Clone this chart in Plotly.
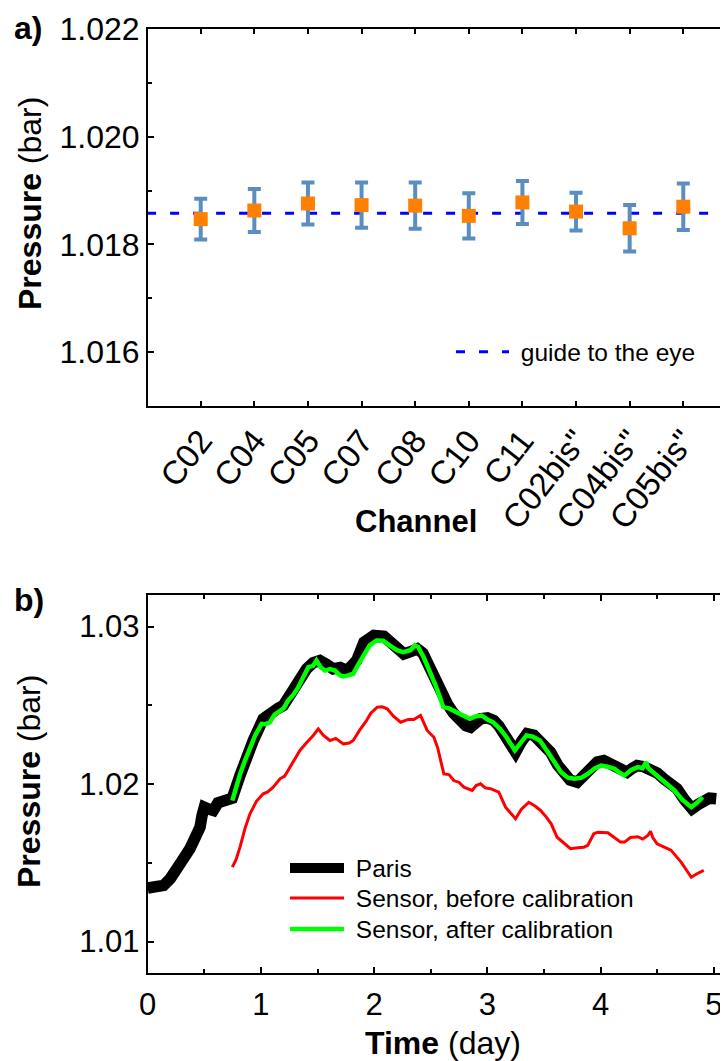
import plotly.graph_objects as go

# ---------------- Panel a data ----------------
channels = ["C02", "C04", "C05", "C07", "C08", "C10", "C11", 'C02bis"', 'C04bis"', 'C05bis"']
pressure_a = [1.01847, 1.01863, 1.01876, 1.01873, 1.01872, 1.01853, 1.01878, 1.01861, 1.01830, 1.01870]
err_a = [0.00038, 0.00040, 0.00039, 0.00042, 0.00043, 0.00042, 0.00040, 0.00035, 0.00043, 0.00043]
guide_value = 1.01858

# ---------------- Panel b data ----------------
paris_t = [0.00, 0.05, 0.10, 0.14, 0.20, 0.256, 0.31, 0.373, 0.42, 0.462, 0.48, 0.50, 0.54, 0.579,
           0.62, 0.66, 0.70, 0.747, 0.815, 0.87, 0.932, 1.02, 1.06, 1.108, 1.15, 1.197, 1.24, 1.285,
           1.35, 1.403, 1.46, 1.52, 1.58, 1.638, 1.70, 1.756, 1.80, 1.845, 1.909, 1.997, 2.086,
           2.174, 2.262, 2.32, 2.38, 2.43, 2.468, 2.52, 2.556, 2.60, 2.645, 2.70, 2.763, 2.81,
           2.851, 2.90, 2.939, 3.00, 3.057, 3.10, 3.145, 3.20, 3.248, 3.30, 3.35, 3.41, 3.469,
           3.51, 3.557, 3.62, 3.674, 3.73, 3.792, 3.85, 3.91, 3.97, 4.027, 4.09, 4.145, 4.19,
           4.233, 4.28, 4.321, 4.38, 4.44, 4.50, 4.557, 4.62, 4.674, 4.74, 4.807, 4.86, 4.91,
           4.96, 5.02]
paris_p = [1.01340, 1.01345, 1.01350, 1.01356, 1.01400, 1.01451, 1.01520, 1.01590, 1.01660,
           1.01726, 1.01800, 1.01853, 1.01840, 1.01832, 1.01880, 1.01895, 1.01890, 1.01910,
           1.02054, 1.02180, 1.02276, 1.02414, 1.02440, 1.02467, 1.02480, 1.02498, 1.02550,
           1.02604, 1.02680, 1.02731, 1.02770, 1.02784, 1.02760, 1.02731, 1.02740, 1.02721,
           1.02750, 1.02784, 1.02900, 1.02943, 1.02937, 1.02879, 1.02826, 1.02840, 1.02858,
           1.02830, 1.02773, 1.02690, 1.02615, 1.02560, 1.02509, 1.02450, 1.02392, 1.02370,
           1.02360, 1.02390, 1.02414, 1.02420, 1.02403, 1.02370, 1.02319, 1.02250, 1.02202,
           1.02270, 1.02319, 1.02310, 1.02276, 1.02250, 1.02202, 1.02120, 1.02064, 1.02025,
           1.02011, 1.02050, 1.02107, 1.02140, 1.02149, 1.02130, 1.02107, 1.02085, 1.02075,
           1.02100, 1.02117, 1.02110, 1.02096, 1.02070, 1.02033, 1.02000, 1.01970, 1.01900,
           1.01843, 1.01870, 1.01895, 1.01910, 1.01906]

before_t = [0.747, 0.78, 0.815, 0.86, 0.903, 0.96, 1.02, 1.06, 1.108, 1.168, 1.21, 1.256, 1.30,
            1.344, 1.40, 1.462, 1.506, 1.55, 1.609, 1.66, 1.727, 1.78, 1.815, 1.87, 1.93, 1.97,
            2.027, 2.07, 2.115, 2.17, 2.233, 2.30, 2.35, 2.409, 2.468, 2.527, 2.56, 2.586, 2.615,
            2.66, 2.703, 2.75, 2.792, 2.865, 2.90, 2.939, 2.98, 3.027, 3.10, 3.16, 3.20, 3.248,
            3.30, 3.365, 3.42, 3.469, 3.52, 3.563, 3.615, 3.65, 3.733, 3.80, 3.851, 3.886, 3.939,
            3.975, 4.027, 4.063, 4.12, 4.175, 4.21, 4.263, 4.327, 4.37, 4.416, 4.44, 4.46, 4.498,
            4.59, 4.62, 4.71, 4.80, 4.85, 4.91]
before_p = [1.01472, 1.01520, 1.01599, 1.01720, 1.01811, 1.01890, 1.01938, 1.01950, 1.01980,
            1.02033, 1.02050, 1.02107, 1.02160, 1.02213, 1.02260, 1.02308, 1.02350, 1.02310,
            1.02276, 1.02290, 1.02255, 1.02260, 1.02276, 1.02340, 1.02400, 1.02450, 1.02488,
            1.02490, 1.02477, 1.02430, 1.02392, 1.02410, 1.02410, 1.02435, 1.02340, 1.02297,
            1.02230, 1.02149, 1.02064, 1.02060, 1.02022, 1.02010, 1.01980, 1.01959, 1.01990,
            1.02001, 1.01975, 1.01970, 1.01948, 1.01853, 1.01820, 1.01779, 1.01840, 1.01884,
            1.01860, 1.01832, 1.01790, 1.01747, 1.01662, 1.01641, 1.01589, 1.01595, 1.01599,
            1.01610, 1.01684, 1.01694, 1.01694, 1.01690, 1.01660, 1.01631, 1.01631, 1.01660,
            1.01665, 1.01650, 1.01673, 1.01700, 1.01660, 1.01620, 1.01589, 1.01580, 1.01504,
            1.01408, 1.01430, 1.01451]

after_t = [0.747, 0.78, 0.815, 0.859, 0.90, 0.95, 1.006, 1.04, 1.08, 1.12, 1.153, 1.20, 1.24,
           1.29, 1.33, 1.38, 1.418, 1.46, 1.49, 1.53, 1.565, 1.61, 1.653, 1.70, 1.727, 1.77,
           1.815, 1.86, 1.903, 1.96, 2.021, 2.08, 2.139, 2.20, 2.256, 2.32, 2.36, 2.389, 2.44,
           2.49, 2.54, 2.58, 2.61, 2.66, 2.727, 2.79, 2.845, 2.90, 2.948, 3.00, 3.05, 3.11,
           3.169, 3.242, 3.30, 3.345, 3.40, 3.463, 3.534, 3.60, 3.65, 3.71, 3.769, 3.83, 3.886,
           3.95, 4.004, 4.06, 4.122, 4.17, 4.21, 4.27, 4.327, 4.37, 4.40, 4.42, 4.47, 4.533,
           4.59, 4.651, 4.72, 4.80, 4.85, 4.90]
after_p = [1.01895, 1.01980, 1.02060, 1.02149, 1.02230, 1.02310, 1.02382, 1.02380, 1.02392,
           1.02440, 1.02456, 1.02480, 1.02530, 1.02570, 1.02615, 1.02690, 1.02742, 1.02750,
           1.02784, 1.02740, 1.02720, 1.02730, 1.02720, 1.02689, 1.02683, 1.02690, 1.02700,
           1.02760, 1.02816, 1.02880, 1.02911, 1.02910, 1.02879, 1.02850, 1.02837, 1.02850,
           1.02880, 1.02869, 1.02800, 1.02720, 1.02630, 1.02551, 1.02488, 1.02480, 1.02456,
           1.02430, 1.02414, 1.02430, 1.02435, 1.02410, 1.02392, 1.02350, 1.02297, 1.02213,
           1.02270, 1.02308, 1.02300, 1.02276, 1.02202, 1.02130, 1.02075, 1.02040, 1.02033,
           1.02040, 1.02064, 1.02100, 1.02117, 1.02110, 1.02096, 1.02070, 1.02054, 1.02090,
           1.02107, 1.02100, 1.02140, 1.02100, 1.02070, 1.02033, 1.02000, 1.01959, 1.01900,
           1.01853, 1.01880, 1.01916]

# ---------------- Layout helpers ----------------
# The page body has an 8 px margin, so the figure is sized to fill the rest of the window
OFF = 8
W, H = 728 - OFF, 1061 - OFF
FONT = "Liberation Sans, Arial, sans-serif"


def px(xp):
    return (xp - OFF) / W


def py(yp):
    return (H - (yp - OFF)) / H


chan_idx = list(range(len(channels)))

fig = go.Figure()

# Panel a
fig.add_trace(go.Scatter(
    x=[chan_idx[0] - 1, chan_idx[-1] + 1], y=[guide_value, guide_value],
    mode="lines", name="\u00a0guide to the eye",
    line=dict(color="#0000FF", width=3, dash="9px,14px"),
    xaxis="x", yaxis="y", legend="legend", showlegend=True))
fig.add_trace(go.Scatter(
    x=chan_idx, y=pressure_a, mode="markers",
    marker=dict(symbol="square", size=14, color="#FF8000", line=dict(width=0)),
    error_y=dict(type="data", array=err_a, visible=True, color="#5A8EC0",
                 thickness=4, width=6.5),
    xaxis="x", yaxis="y", showlegend=False))

# Panel b
fig.add_trace(go.Scatter(
    x=paris_t, y=paris_p, mode="lines", name="\u00a0Paris",
    line=dict(color="black", width=11.5), xaxis="x2", yaxis="y2", legend="legend2"))
fig.add_trace(go.Scatter(
    x=before_t, y=before_p, mode="lines", name="\u00a0Sensor, before calibration",
    line=dict(color="#FF0000", width=3), xaxis="x2", yaxis="y2", legend="legend3"))
fig.add_trace(go.Scatter(
    x=after_t, y=after_p, mode="lines", name="\u00a0Sensor, after calibration",
    line=dict(color="#00FF00", width=4.5), xaxis="x2", yaxis="y2", legend="legend4"))

axis_common = dict(showline=True, linecolor="black", linewidth=2, ticks="inside",
                   tickcolor="black", tickwidth=1.5, showgrid=False, zeroline=False,
                   automargin=False, tickfont=dict(family=FONT, color="black"))

legend_b = dict(xanchor="left", yanchor="middle", bgcolor="rgba(0,0,0,0)",
                font=dict(size=24.5, family=FONT), itemwidth=54)

fig.update_layout(
    template="none",
    width=W, height=H,
    margin=dict(l=0, r=0, t=0, b=0, pad=0),
    paper_bgcolor="white", plot_bgcolor="white",
    font=dict(family=FONT, color="black"),
    xaxis=dict(**axis_common, domain=[px(148), 1.0], anchor="y",
               range=[-0.983, 9.834], tickmode="array", tickvals=chan_idx,
               ticktext=channels, tickangle=-52, ticklen=5, mirror="ticks",
               tickfont_size=33),
    yaxis=dict(**axis_common, domain=[py(406), py(29)], anchor="x",
               range=[1.015, 1.022], tickmode="array",
               tickvals=[1.016, 1.018, 1.020, 1.022], tickformat=".3f",
               ticklen=6, mirror=False, tickfont_size=32,
               minor=dict(tickvals=[1.015, 1.017, 1.019, 1.021], ticks="inside",
                          ticklen=4, tickcolor="black", tickwidth=1.5)),
    xaxis2=dict(**axis_common, domain=[px(147.7), 1.0], anchor="y2",
                range=[0, 5.124], tickmode="array", tickvals=[0, 1, 2, 3, 4, 5],
                ticklen=6, mirror="ticks", tickfont_size=31, ticklabelstandoff=3,
                minor=dict(tickvals=[0.5, 1.5, 2.5, 3.5, 4.5], ticks="inside",
                           ticklen=4, tickcolor="black", tickwidth=1.5)),
    yaxis2=dict(**axis_common, domain=[py(973), py(595)], anchor="x2",
                range=[1.008, 1.032], tickmode="array", tickvals=[1.01, 1.02, 1.03],
                tickformat=".2f", ticklen=6, mirror=False, tickfont_size=31,
                minor=dict(tickvals=[1.015, 1.025], ticks="inside",
                           ticklen=4, tickcolor="black", tickwidth=1.5)),
    legend=dict(x=px(451), y=py(351.7), xanchor="left", yanchor="middle",
                bgcolor="rgba(0,0,0,0)", font=dict(size=24.5, family=FONT),
                itemwidth=53),
    legend2=dict(legend_b, x=px(285), y=py(868)),
    legend3=dict(legend_b, x=px(285), y=py(898)),
    legend4=dict(legend_b, x=px(285), y=py(929)),
    annotations=[
        dict(text="<b>a)</b>", x=px(27.5), y=py(28), xref="paper", yref="paper",
             showarrow=False, xanchor="center", yanchor="middle", font=dict(size=32)),
        dict(text="<b>b)</b>", x=px(28.5), y=py(600), xref="paper", yref="paper",
             showarrow=False, xanchor="center", yanchor="middle", font=dict(size=32)),
        dict(text="<b>Pressure</b> (bar)", x=px(30), y=py(204), xref="paper", yref="paper",
             showarrow=False, xanchor="center", yanchor="middle", textangle=-90,
             font=dict(size=32)),
        dict(text="<b>Pressure</b> (bar)", x=px(29), y=py(782), xref="paper", yref="paper",
             showarrow=False, xanchor="center", yanchor="middle", textangle=-90,
             font=dict(size=32)),
        dict(text="<b>Channel</b>", x=px(416), y=py(521), xref="paper", yref="paper",
             showarrow=False, xanchor="center", yanchor="middle", font=dict(size=31)),
        dict(text="<b>Time</b> (day)", x=px(442.5), y=py(1043), xref="paper", yref="paper",
             showarrow=False, xanchor="center", yanchor="middle", font=dict(size=32)),
    ],
)

fig.write_html("out.html")
